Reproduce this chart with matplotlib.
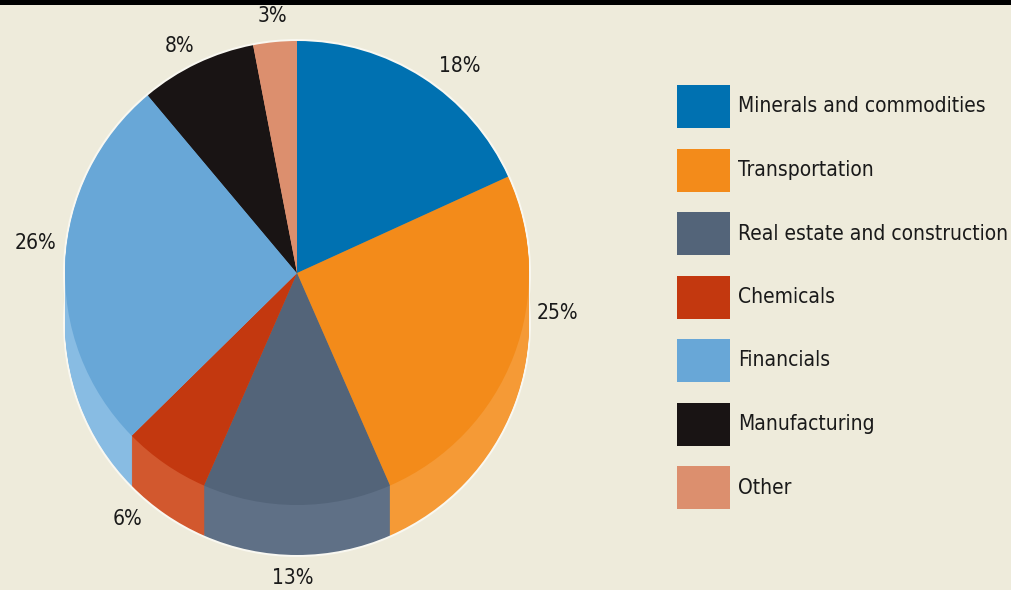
import matplotlib
matplotlib.use("Agg")
import matplotlib.pyplot as plt
from matplotlib.patches import Rectangle

# sector shares (percent), clockwise from 12 o'clock
sectors = ["Minerals and commodities", "Transportation", "Real estate and construction",
           "Chemicals", "Financials", "Manufacturing", "Other"]
shares = [18, 25, 13, 6, 26, 8, 3]
pct_labels = ["18%", "25%", "13%", "6%", "26%", "8%", "3%"]

top_colors = ["#0071B1", "#F38B1A", "#536479", "#C3380F", "#68A7D7", "#191414", "#DC8F6E"]
side_colors = ["#1A82BE", "#F59A36", "#5F7086", "#D2582E", "#88BCE3", "#2A2424", "#E3A285"]

# label anchor points (pixels from top-left)
label_xy = [(460, 66), (557, 313), (293, 578), (128, 519), (36, 243), (180, 46), (272, 16)]

W, H = 1011, 590
bg = "#EEEBDB"
plt.rcParams["font.family"] = ["DejaVu Sans"]
plt.rcParams["font.stretch"] = "condensed"

fig = plt.figure(figsize=(W / 100, H / 100), dpi=100, facecolor=bg)
ax = fig.add_axes([0, 0, 1, 1])
ax.set_facecolor(bg)

cx, cy, r = 297, H - 273, 232
depth = 50

# faint light rim around the whole disc
for k in (depth, 0):
    ax.pie([1], colors=["#F9F8F1"], center=(cx, cy - k), radius=r + 2,
           wedgeprops=dict(linewidth=0))

# extruded side: stack of shifted pies, deepest first
for k in range(depth, 0, -1):
    ax.pie(shares, colors=side_colors, startangle=90, counterclock=False,
           center=(cx, cy - k), radius=r, wedgeprops=dict(linewidth=0, antialiased=True))

# top face
ax.pie(shares, colors=top_colors, startangle=90, counterclock=False,
       center=(cx, cy), radius=r, wedgeprops=dict(linewidth=0, antialiased=True))

for txt, (x, y) in zip(pct_labels, label_xy):
    ax.text(x, H - y, txt, ha="center", va="center", fontsize=15,
            fontstretch="condensed", color="#1A1A1A")

# legend
for i, (name, col) in enumerate(zip(sectors, top_colors)):
    top = 85 + i * 63.5
    ax.add_patch(Rectangle((677, H - top - 43), 53, 43, facecolor=col, edgecolor="none"))
    ax.text(738, H - top - 21.5, name, ha="left", va="center", fontsize=15,
            fontstretch="condensed", color="#1A1A1A")

# black rule along the top edge
ax.add_patch(Rectangle((0, H - 5), W, 5, facecolor="black", edgecolor="none"))

ax.set_xlim(0, W)
ax.set_ylim(0, H)
ax.set_aspect("auto")
ax.axis("off")

fig.savefig("out.png", dpi=100, facecolor=bg)
